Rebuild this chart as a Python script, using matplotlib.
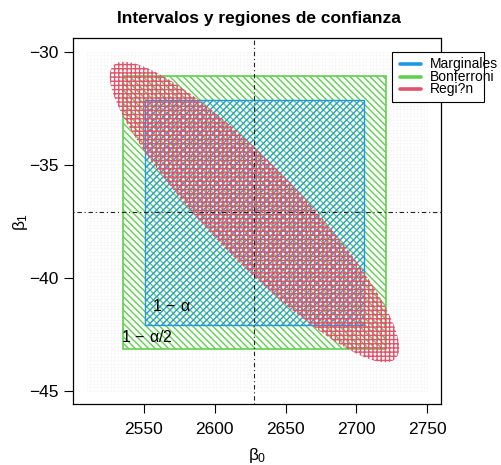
import numpy as np
import matplotlib
matplotlib.use("Agg")
import matplotlib.pyplot as plt
from matplotlib.patches import Rectangle, Polygon
from matplotlib.lines import Line2D

plt.rcParams['font.family'] = ['Liberation Sans', 'DejaVu Sans']
plt.rcParams['mathtext.fontset'] = 'custom'
plt.rcParams['mathtext.rm'] = 'Liberation Sans'
plt.rcParams['mathtext.it'] = 'Liberation Sans'
plt.rcParams['mathtext.bf'] = 'Liberation Sans:bold'
plt.rcParams['hatch.linewidth'] = 1.0

# estimaciones puntuales
beta_hat = [2628.1, -37.09]
# intervalos marginales (1 - alpha)
marg_b0 = [2551.2, 2705.0]
marg_b1 = [-42.08, -32.11]
# intervalos de Bonferroni (1 - alpha/2)
bonf_b0 = [2535.3, 2720.8]
bonf_b1 = [-43.14, -31.05]
# región de confianza conjunta: semiejes proyectados y correlación
reg_half = [102.0, 6.65]
reg_rho = -0.902
# rejilla de evaluación
grid_b0 = [2510, 2750]
grid_b1 = [-45, -30]

COL_M = "#2297E6"
COL_B = "#61D04F"
COL_R = "#DF536B"

W, H = 501, 465
fig = plt.figure(figsize=(W / 100, H / 100), dpi=100)
ax = fig.add_axes([73.3 / W, 1 - 404.3 / H, (441 - 73.3) / W, (404.3 - 38.3) / H])

pad_x = 0.04 * (grid_b0[1] - grid_b0[0])
pad_y = 0.04 * (grid_b1[1] - grid_b1[0])
ax.set_xlim(grid_b0[0] - pad_x, grid_b0[1] + pad_x)
ax.set_ylim(grid_b1[0] - pad_y, grid_b1[1] + pad_y)

# rejilla tenue de fondo
gx = np.linspace(grid_b0[0], grid_b0[1], 101)
gy = np.linspace(grid_b1[0], grid_b1[1], 101)
ax.vlines(gx, grid_b1[0], grid_b1[1], color="#f7f7f7", lw=0.5, zorder=0)
ax.hlines(gy, grid_b0[0], grid_b0[1], color="#f7f7f7", lw=0.5, zorder=0)

# Bonferroni
ax.add_patch(Rectangle((bonf_b0[0], bonf_b1[0]), bonf_b0[1] - bonf_b0[0],
                       bonf_b1[1] - bonf_b1[0], facecolor="none",
                       edgecolor=COL_B, lw=1.2, hatch="\\" * 5, zorder=2))
# marginales
ax.add_patch(Rectangle((marg_b0[0], marg_b1[0]), marg_b0[1] - marg_b0[0],
                       marg_b1[1] - marg_b1[0], facecolor="none",
                       edgecolor=COL_M, lw=1.0, hatch="/" * 5, zorder=3))
# región elíptica
t = np.linspace(0, 2 * np.pi, 361)
th = np.arccos(reg_rho)
ex = beta_hat[0] + reg_half[0] * np.cos(t)
ey = beta_hat[1] + reg_half[1] * np.cos(t - th)
ax.add_patch(Polygon(np.column_stack([ex, ey]), closed=True, facecolor="none",
                     edgecolor=COL_R, lw=0, hatch="+" * 4, zorder=4))

ax.axvline(beta_hat[0], color="#222222", lw=0.8, ls=(0, (1, 2.5, 4, 2.5)), zorder=5)
ax.axhline(beta_hat[1], color="#222222", lw=0.8, ls=(0, (1, 2.5, 4, 2.5)), zorder=5)

ax.text(marg_b0[0] + 5, marg_b1[0] + 0.82, r"$1\,-\,\alpha$", fontsize=11.5,
        ha="left", va="center", zorder=6)
ax.text(bonf_b0[0] - 1, bonf_b1[0] + 0.5, r"$1\,-\,\alpha/2$", fontsize=11.5,
        ha="left", va="center", zorder=6)

ax.set_xticks([2550, 2600, 2650, 2700, 2750])
ax.set_yticks([-30, -35, -40, -45])
ax.tick_params(direction="out", length=6.5, width=0.8, labelsize=12.5)
ax.tick_params(axis="x", pad=6)
ax.tick_params(axis="y", pad=4)
for s in ax.spines.values():
    s.set_linewidth(0.9)

fig.text(259 / W, 1 - 18 / H, "Intervalos y regiones de confianza",
         fontsize=12.5, fontweight="bold", ha="center", va="center")
fig.text(257 / W, 1 - 455 / H, r"$\beta_0$", fontsize=12.5, ha="center", va="center")
fig.text(20 / W, 1 - 222 / H, r"$\beta_1$", fontsize=12.5, ha="center", va="center",
         rotation=90)

# leyenda
lx0, ly0, lx1, ly1 = 391.7, 51.7, 484.3, 101.7
fig.add_artist(Rectangle((lx0 / W, 1 - ly1 / H), (lx1 - lx0) / W, (ly1 - ly0) / H,
                         transform=fig.transFigure, facecolor="white",
                         edgecolor="black", lw=0.8, zorder=10))
labels = ["Marginales", "Bonferroni", "Regi?n"]
for i, (lab, col) in enumerate(zip(labels, [COL_M, COL_B, COL_R])):
    yy = 1 - (64 + 12.7 * i) / H
    fig.add_artist(Line2D([400 / W, 421 / W], [yy, yy], transform=fig.transFigure,
                          color=col, lw=2.6, solid_capstyle="round", zorder=11))
    fig.text(430 / W, yy, lab, fontsize=10, ha="left", va="center", zorder=12)

fig.savefig("out.png", dpi=100)
